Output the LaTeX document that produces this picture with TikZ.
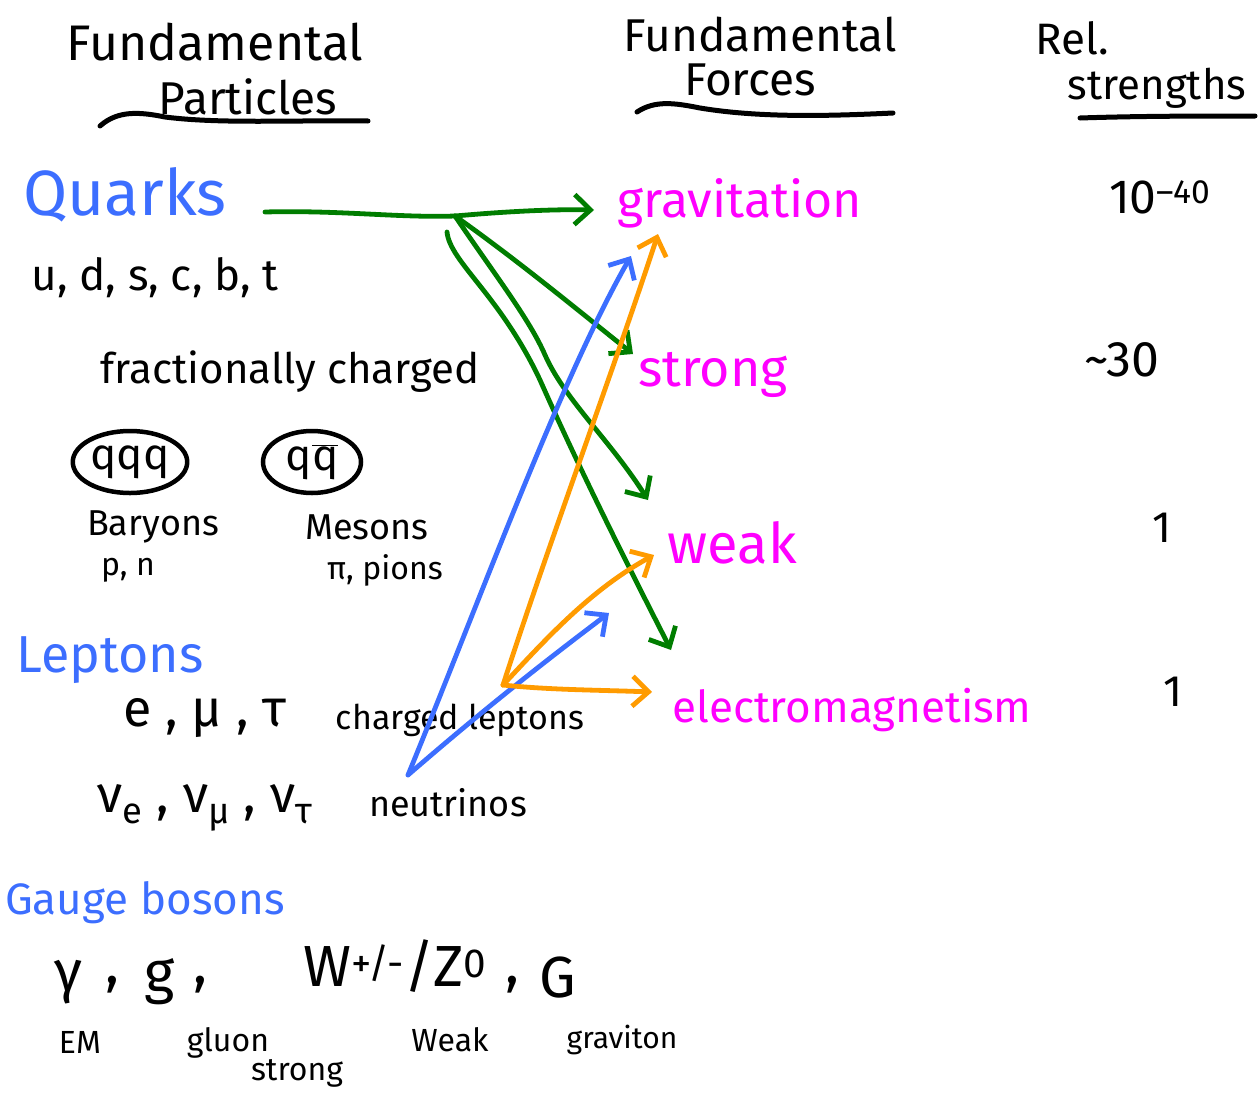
\documentclass[tikz,border=0pt]{standalone}
\usepackage{fontspec}
\setmainfont{Fira Sans}
\usetikzlibrary{arrows.meta,shapes.geometric}
\definecolor{pgreen}{RGB}{0,125,0}
\definecolor{pblue}{RGB}{60,110,255}
\definecolor{porange}{RGB}{255,155,0}
\definecolor{pmag}{RGB}{255,0,255}
\tikzset{
  txt/.style={inner sep=0pt, text=black},
  fs/.style={font=\fontsize{#1}{#1}\selectfont},
  cat/.style={txt, text=pblue},
  force/.style={txt, text=pmag},
  ink/.style={line width=4.8pt, line cap=round, line join=round},
  tip/.style={-{Straight Barb[length=16pt,width=30pt]}},
  ubar/.style={line width=5pt, line cap=round, black},
  qbox/.style={ellipse, draw, line width=4.5pt, inner sep=1pt, minimum height=62pt}
}
\begin{document}
\begin{tikzpicture}[x=1pt,y=-1pt]
\useasboundingbox (0,0) rectangle (1260,1092);
% headers
\node[txt,fs=50] (hp1) at (215,42) {Fundamental};
\node[txt,fs=46] (hp2) at (248,97) {Particles};
\node[txt,fs=46] (hf1) at (760,35) {Fundamental};
\node[txt,fs=46] (hf2) at (750,80) {Forces};
\node[txt,fs=44] (hr1) at (1072,38) {Rel.};
\node[txt,fs=42] (hr2) at (1157,88) {strengths};
\draw[ubar] (100,126) .. controls (118,110) and (140,112) .. (165,117) .. controls (220,124) and (290,120) .. (368,121);
\draw[ubar] (637,112) .. controls (655,100) and (675,103) .. (700,108) .. controls (760,118) and (830,116) .. (893,113);
\draw[ubar] (1080,118) .. controls (1140,116) and (1200,116) .. (1255,116);
% quarks
\node[cat,fs=64] (quarks) at (125,195) {Quarks};
\node[txt,fs=44] (flav) at (155,278) {u, d, s, c, b, t};
\node[txt,fs=42] (frac) at (290,372) {fractionally charged};
\node[qbox,fs=44,minimum width=102pt] (bary) at (130,462) {qqq};
\node[qbox,fs=44,minimum width=98pt] (meso) at (312,462) {q$\overline{\mbox{q}}$};
\node[txt,fs=36] (baryons) at (153,527) {Baryons};
\node[txt,fs=32] (pn) at (128,570) {p, n};
\node[txt,fs=36] (mesons) at (367,527) {Mesons};
\node[txt,fs=32] (pions) at (385,570) {π, pions};
% leptons
\node[cat,fs=52] (leptons) at (110,660) {Leptons};
\node[txt,fs=52] (clep) at (205,718) {e , μ , τ};
\node[txt,fs=34] (clepl) at (460,720) {charged leptons};
\node[txt,fs=52] (nus) at (205,808) {ν\textsubscript{e} , ν\textsubscript{μ} , ν\textsubscript{τ}};
\node[txt,fs=36] (nul) at (448,803) {neutrinos};
% gauge bosons
\node[cat,fs=44] (gauge) at (145,903) {Gauge bosons};
\node[txt,fs=58] (gam) at (68,982) {γ};
\node[txt,fs=58] (cm1) at (112,985) {,};
\node[txt,fs=58] (glu) at (160,982) {g};
\node[txt,fs=58] (cm2) at (200,985) {,};
\node[txt,fs=58] (wz) at (395,966) {W\textsuperscript{+/-}/Z\textsuperscript{0}};
\node[txt,fs=58] (cm3) at (512,985) {,};
\node[txt,fs=58] (grv) at (558,978) {G};
\node[txt,fs=32] (lem) at (80,1042) {EM};
\node[txt,fs=32] (lglu) at (228,1043) {gluon};
\node[txt,fs=32] (lstr) at (297,1073) {strong};
\node[txt,fs=32] (lwk) at (450,1040) {Weak};
\node[txt,fs=30] (lgrv) at (622,1040) {graviton};
% forces
\node[force,fs=50] (fgrav) at (740,203) {gravitation};
\node[force,fs=52] (fstr) at (713,375) {strong};
\node[force,fs=56] (fweak) at (732,543) {weak};
\node[force,fs=44] (fem) at (852,710) {electromagnetism};
% strengths
\node[txt,fs=48] (s1) at (1160,197) {10\textsuperscript{–40}};
\node[txt,fs=50] (s2) at (1122,360) {\textasciitilde30};
\node[txt,fs=44] (s3) at (1162,528) {1};
\node[txt,fs=44] (s4) at (1173,692) {1};
% connector points
\coordinate (qs) at (265,212);
\coordinate (br) at (455,216);
\coordinate (br2) at (447,232);
\coordinate (g1) at (594,210);
\coordinate (g2) at (633,354);
\coordinate (g3) at (648,500);
\coordinate (g4) at (671,650);
\coordinate (nu) at (408,775);
\coordinate (b1) at (631,256);
\coordinate (b2) at (609,613);
\coordinate (ov) at (503,685);
\coordinate (o1) at (658,234);
\coordinate (o2) at (654,555);
\coordinate (o3) at (652,692);
% green
\draw[ink,pgreen] (qs) .. controls (340,210) and (400,218) .. (br);
\draw[ink,pgreen,tip] (br) .. controls (500,212) and (550,209) .. (g1);
\draw[ink,pgreen,tip] (br) .. controls (520,262) and (580,312) .. (g2);
\draw[ink,pgreen,tip] (br) .. controls (495,275) and (530,320) .. (545,355) .. controls (565,400) and (610,440) .. (g3);
\draw[ink,pgreen,tip] (br2) .. controls (450,262) and (500,295) .. (540,380) .. controls (580,470) and (625,560) .. (g4);
% blue
\draw[ink,pblue,tip] (nu) .. controls (480,600) and (560,380) .. (b1);
\draw[ink,pblue,tip] (nu) .. controls (460,730) and (520,680) .. (b2);
% orange
\draw[ink,porange,tip] (ov) .. controls (550,540) and (610,380) .. (o1);
\draw[ink,porange,tip] (ov) .. controls (545,640) and (590,590) .. (o2);
\draw[ink,porange,tip] (ov) .. controls (550,690) and (600,690) .. (o3);
\end{tikzpicture}
\end{document}
